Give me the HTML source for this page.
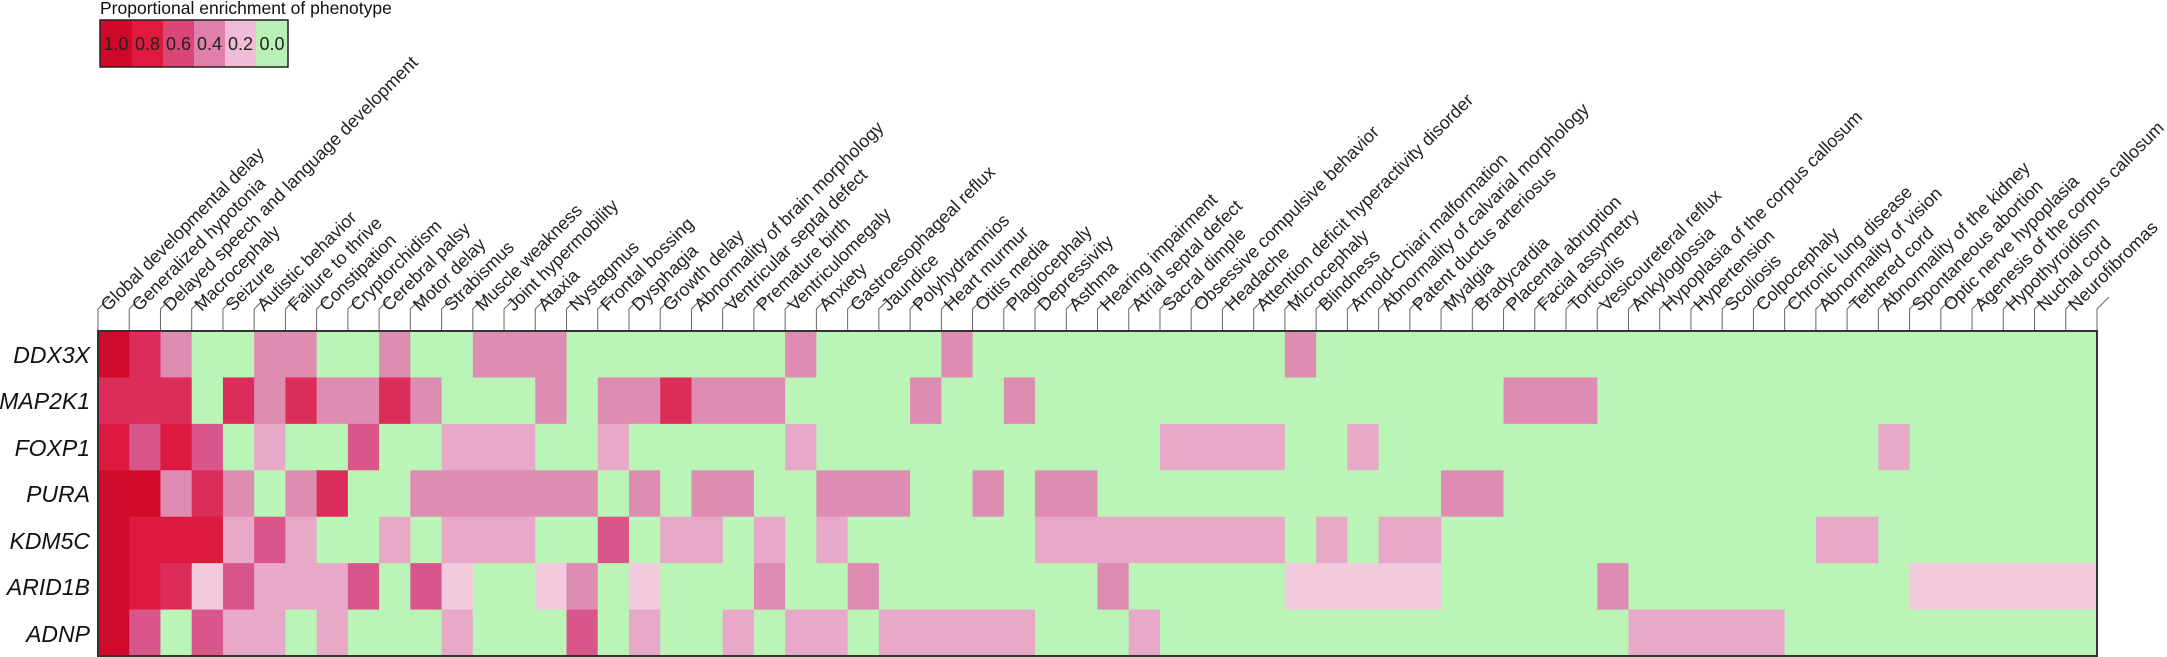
<!DOCTYPE html>
<html><head><meta charset="utf-8"><style>
html,body{margin:0;padding:0;background:#fff;}
svg{display:block;font-family:"Liberation Sans",Arial,sans-serif;}
.cl{font-size:18px;fill:#222;}
.rl{font-size:23px;font-style:italic;fill:#111;text-anchor:end;}
</style></head><body>
<svg id="s" width="2167" height="657" viewBox="0 0 2167 657" xmlns="http://www.w3.org/2000/svg">
<text x="100" y="14" font-size="17.5" fill="#111">Proportional enrichment of phenotype</text>
<rect x="100" y="20" width="32" height="47" fill="#d0062a"/>
<rect x="132" y="20" width="31" height="47" fill="#e01a3e"/>
<rect x="163" y="20" width="31" height="47" fill="#da4676"/>
<rect x="194" y="20" width="31" height="47" fill="#e080aa"/>
<rect x="225" y="20" width="31" height="47" fill="#efbdd6"/>
<rect x="256" y="20" width="32" height="47" fill="#b9f1b6"/>
<rect x="100" y="20" width="188" height="47" fill="none" stroke="#222" stroke-width="1.5"/>
<g font-size="18" fill="#222" text-anchor="middle">
<text x="116" y="50">1.0</text><text x="147.5" y="50">0.8</text><text x="178.5" y="50">0.6</text><text x="209.5" y="50">0.4</text><text x="240.5" y="50">0.2</text><text x="272" y="50">0.0</text>
</g>
<g id="cells"></g>
<g id="ticks"></g>
<rect x="98" y="331" width="1999" height="325" fill="none" stroke="#333" stroke-width="2"/>
<text class="rl" x="90" y="363">DDX3X</text>
<text class="rl" x="90" y="409">MAP2K1</text>
<text class="rl" x="90" y="456">FOXP1</text>
<text class="rl" x="90" y="502">PURA</text>
<text class="rl" x="90" y="549">KDM5C</text>
<text class="rl" x="90" y="595">ARID1B</text>
<text class="rl" x="90" y="642">ADNP</text>
<g class="cl">
<text transform="translate(108,312) rotate(-45)">Global developmental delay</text>
<text transform="translate(139.2,312) rotate(-45)">Generalized hypotonia</text>
<text transform="translate(170.5,312) rotate(-45)">Delayed speech and language development</text>
<text transform="translate(201.7,312) rotate(-45)">Macrocephaly</text>
<text transform="translate(232.9,312) rotate(-45)">Seizure</text>
<text transform="translate(264.2,312) rotate(-45)">Autistic behavior</text>
<text transform="translate(295.4,312) rotate(-45)">Failure to thrive</text>
<text transform="translate(326.6,312) rotate(-45)">Constipation</text>
<text transform="translate(357.8,312) rotate(-45)">Cryptorchidism</text>
<text transform="translate(389.1,312) rotate(-45)">Cerebral palsy</text>
<text transform="translate(420.3,312) rotate(-45)">Motor delay</text>
<text transform="translate(451.5,312) rotate(-45)">Strabismus</text>
<text transform="translate(482.8,312) rotate(-45)">Muscle weakness</text>
<text transform="translate(514,312) rotate(-45)">Joint hypermobility</text>
<text transform="translate(545.2,312) rotate(-45)">Ataxia</text>
<text transform="translate(576.5,312) rotate(-45)">Nystagmus</text>
<text transform="translate(607.7,312) rotate(-45)">Frontal bossing</text>
<text transform="translate(638.9,312) rotate(-45)">Dysphagia</text>
<text transform="translate(670.1,312) rotate(-45)">Growth delay</text>
<text transform="translate(701.4,312) rotate(-45)">Abnormality of brain morphology</text>
<text transform="translate(732.6,312) rotate(-45)">Ventricular septal defect</text>
<text transform="translate(763.8,312) rotate(-45)">Premature birth</text>
<text transform="translate(795.1,312) rotate(-45)">Ventriculomegaly</text>
<text transform="translate(826.3,312) rotate(-45)">Anxiety</text>
<text transform="translate(857.5,312) rotate(-45)">Gastroesophageal reflux</text>
<text transform="translate(888.8,312) rotate(-45)">Jaundice</text>
<text transform="translate(920,312) rotate(-45)">Polyhydramnios</text>
<text transform="translate(951.2,312) rotate(-45)">Heart murmur</text>
<text transform="translate(982.4,312) rotate(-45)">Otitis media</text>
<text transform="translate(1013.7,312) rotate(-45)">Plagiocephaly</text>
<text transform="translate(1044.9,312) rotate(-45)">Depressivity</text>
<text transform="translate(1076.1,312) rotate(-45)">Asthma</text>
<text transform="translate(1107.4,312) rotate(-45)">Hearing impairment</text>
<text transform="translate(1138.6,312) rotate(-45)">Atrial septal defect</text>
<text transform="translate(1169.8,312) rotate(-45)">Sacral dimple</text>
<text transform="translate(1201.1,312) rotate(-45)">Obsessive compulsive behavior</text>
<text transform="translate(1232.3,312) rotate(-45)">Headache</text>
<text transform="translate(1263.5,312) rotate(-45)">Attention deficit hyperactivity disorder</text>
<text transform="translate(1294.7,312) rotate(-45)">Microcephaly</text>
<text transform="translate(1326,312) rotate(-45)">Blindness</text>
<text transform="translate(1357.2,312) rotate(-45)">Arnold-Chiari malformation</text>
<text transform="translate(1388.4,312) rotate(-45)">Abnormality of calvarial morphology</text>
<text transform="translate(1419.7,312) rotate(-45)">Patent ductus arteriosus</text>
<text transform="translate(1450.9,312) rotate(-45)">Myalgia</text>
<text transform="translate(1482.1,312) rotate(-45)">Bradycardia</text>
<text transform="translate(1513.4,312) rotate(-45)">Placental abruption</text>
<text transform="translate(1544.6,312) rotate(-45)">Facial assymetry</text>
<text transform="translate(1575.8,312) rotate(-45)">Torticolis</text>
<text transform="translate(1607,312) rotate(-45)">Vesicoureteral reflux</text>
<text transform="translate(1638.3,312) rotate(-45)">Ankyloglossia</text>
<text transform="translate(1669.5,312) rotate(-45)">Hypoplasia of the corpus callosum</text>
<text transform="translate(1700.7,312) rotate(-45)">Hypertension</text>
<text transform="translate(1732,312) rotate(-45)">Scoliosis</text>
<text transform="translate(1763.2,312) rotate(-45)">Colpocephaly</text>
<text transform="translate(1794.4,312) rotate(-45)">Chronic lung disease</text>
<text transform="translate(1825.7,312) rotate(-45)">Abnormality of vision</text>
<text transform="translate(1856.9,312) rotate(-45)">Tethered cord</text>
<text transform="translate(1888.1,312) rotate(-45)">Abnormality of the kidney</text>
<text transform="translate(1919.3,312) rotate(-45)">Spontaneous abortion</text>
<text transform="translate(1950.6,312) rotate(-45)">Optic nerve hypoplasia</text>
<text transform="translate(1981.8,312) rotate(-45)">Agenesis of the corpus callosum</text>
<text transform="translate(2013,312) rotate(-45)">Hypothyroidism</text>
<text transform="translate(2044.3,312) rotate(-45)">Nuchal cord</text>
<text transform="translate(2075.5,312) rotate(-45)">Neurofibromas</text>
</g>
</svg>
<script>
(function(){
var NS="http://www.w3.org/2000/svg";
var C={a:"#cf0a2a",b:"#dc1a40",c:"#db2c5a",d:"#d9568a",e:"#df8cb2",f:"#e8a9c9",g:"#f1cadd","0":"#baf4b7"};
function z(n){return new Array(n+1).join("0");}
var rows=[
"ace00ee00e00eee"+z(7)+"e"+z(4)+"e"+z(10)+"e"+z(25),
"ccc0ceceece000e0eece"+"ee"+z(4)+"e"+z(2)+"e"+z(15)+"eee"+z(16),
"bdbd0f00d00fff00f"+z(5)+"f"+z(11)+"ffff"+"00"+"f"+z(16)+"f"+z(6),
"aaece0ec00eeeeee0e0"+"ee"+"00"+"eee"+"00"+"e"+"0"+"ee"+z(11)+"ee"+z(19),
"abbbfdf00f0fff00d0ff"+"0f0f"+z(6)+"ffffffff"+"0f0ff"+z(12)+"ff"+z(7),
"abcgdfffd0dg00ge0g"+z(3)+"e00e"+z(7)+"e"+z(5)+"ggggg"+z(5)+"e"+z(9)+"gggggg",
"ad0dff0f000f000d0f"+"00f0ff0"+"fffff"+"000"+"f"+z(15)+"fffff"+z(10)
];
var g=document.getElementById("cells");
var x0=98,cw=1999/64,y0=331,rh=325/7;
for(var r=0;r<7;r++){var s=rows[r];
 for(var c=0;c<64;c++){var k=s.charAt(c)||"0";
  var e=document.createElementNS(NS,"rect");
  var xa=x0+c*cw,xb=x0+(c+1)*cw,ya=y0+r*rh,yb=y0+(r+1)*rh;
  e.setAttribute("x",xa.toFixed(2));e.setAttribute("y",ya.toFixed(2));
  e.setAttribute("width",(xb-xa+0.6).toFixed(2));e.setAttribute("height",(yb-ya+0.6).toFixed(2));
  e.setAttribute("fill",C[k]);g.appendChild(e);}}
var t=document.getElementById("ticks");
for(var i=0;i<=64;i++){var bx=x0+i*cw;
 var p=document.createElementNS(NS,"path");
 p.setAttribute("d","M"+bx.toFixed(2)+" 331 L"+bx.toFixed(2)+" 309 L"+(bx+12).toFixed(2)+" 297");
 p.setAttribute("fill","none");p.setAttribute("stroke","#666");p.setAttribute("stroke-width","1");
 t.appendChild(p);}
})();
</script>
</body></html>
